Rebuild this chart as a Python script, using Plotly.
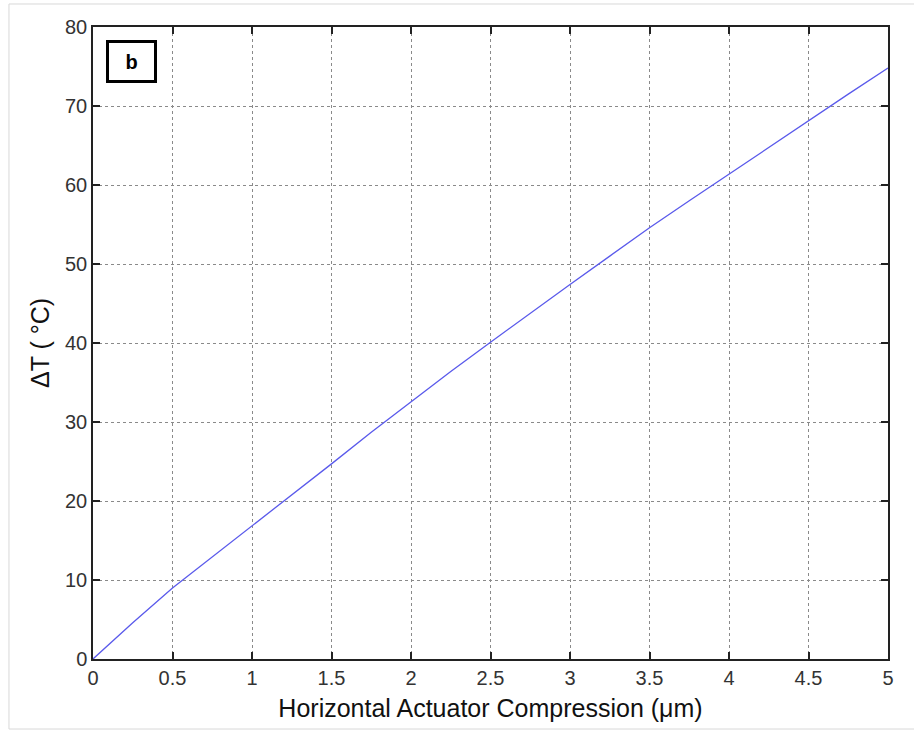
import plotly.graph_objects as go

# Data
compression_um = [0, 0.25, 0.5, 0.75, 1.0, 1.25, 1.5, 1.75, 2.0, 2.25, 2.5,
                  2.75, 3.0, 3.25, 3.5, 3.75, 4.0, 4.25, 4.5, 4.75, 5.0]
delta_t = [0, 4.6, 9.0, 12.9, 16.8, 20.8, 24.7, 28.7, 32.6, 36.4, 40.1,
           43.8, 47.4, 51.0, 54.6, 58.0, 61.4, 64.8, 68.1, 71.5, 74.8]

x_ticks = [0, 0.5, 1, 1.5, 2, 2.5, 3, 3.5, 4, 4.5, 5]
x_ticklabels = ["0", "0.5", "1", "1.5", "2", "2.5", "3", "3.5", "4", "4.5", "5"]
y_ticks = [0, 10, 20, 30, 40, 50, 60, 70, 80]

FONT = "Liberation Sans, Arial, sans-serif"

fig = go.Figure()
fig.add_trace(go.Scatter(
    x=compression_um, y=delta_t, mode="lines",
    line=dict(color="rgb(90,90,235)", width=1.3),
    showlegend=False, hoverinfo="x+y",
))

axis_common = dict(
    showline=True, linecolor="#222", linewidth=1.5, mirror="ticks",
    ticks="inside", ticklen=7, tickcolor="#222", tickwidth=1.5,
    showgrid=True, gridcolor="#8a8a8a", griddash="dot", gridwidth=1,
    zeroline=False,
    tickfont=dict(family=FONT, size=20, color="#333"),
)

fig.update_xaxes(
    range=[0, 5], tickmode="array", tickvals=x_ticks, ticktext=x_ticklabels,
    title=dict(text="Horizontal Actuator Compression (\u03bcm)",
               font=dict(family=FONT, size=25, color="#111"), standoff=12),
    **axis_common,
)
fig.update_yaxes(
    range=[0, 80], tickmode="array", tickvals=y_ticks,
    title=dict(text="\u0394T ( \u00b0C)",
               font=dict(family=FONT, size=25, color="#111"), standoff=8),
    **axis_common,
)

# light frame around the whole image
fig.add_shape(type="rect", xref="paper", yref="paper",
              x0=-0.1057, x1=1.04, y0=-0.1108, y1=1.0364,
              line=dict(color="#d8d8d8", width=1), layer="below")

# panel label box
fig.add_annotation(
    xref="paper", yref="paper", x=0.0484, y=0.946, xanchor="center", yanchor="middle",
    text="<b>b</b>", showarrow=False,
    font=dict(family=FONT, size=20, color="#000"),
    bordercolor="#000", borderwidth=3, borderpad=7, bgcolor="white",
    width=31, height=23,
)

fig.update_layout(
    width=914, height=732,
    margin=dict(l=93, r=26, t=27, b=73),
    paper_bgcolor="white", plot_bgcolor="white",
    font=dict(family=FONT),
)

fig.write_html("out.html", config={"displayModeBar": False},
               post_script="document.body.style.margin='0';")
